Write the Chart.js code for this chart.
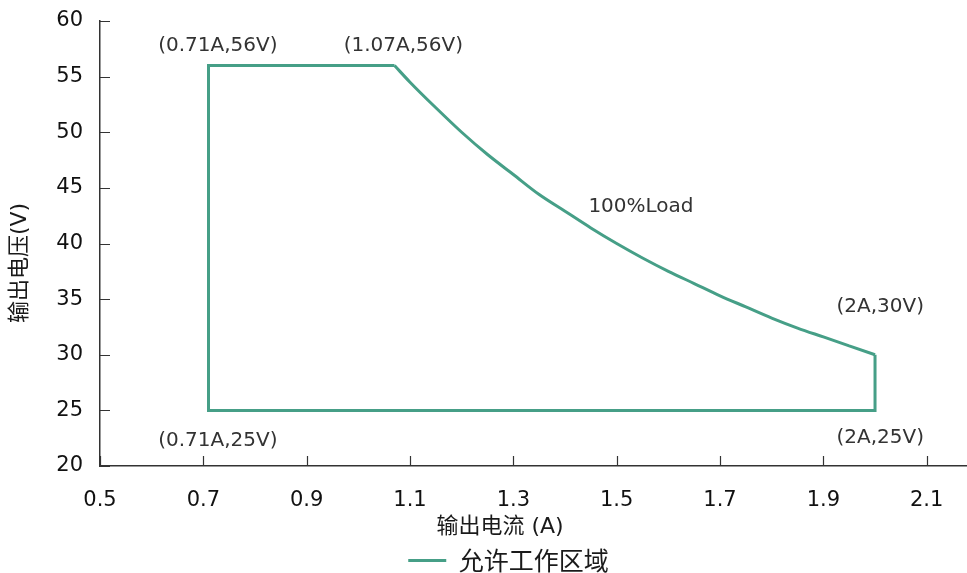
<!DOCTYPE html>
<html>
<head>
<meta charset="utf-8">
<script src="https://cdn.jsdelivr.net/npm/chart.js@4.4.1/dist/chart.umd.min.js"></script>
<style>
  html, body { margin: 0; padding: 0; background: #fff; }
  #wrap { width: 967px; height: 573px; }
</style>
</head>
<body>
<div id="wrap"><canvas id="c"></canvas></div>
<script>
// ---------- Data ----------
// straight edges of the allowed working area, traced in order
var edgeA = [2.00, 2.00, 0.71, 0.71, 1.07];
var edgeV = [30, 25, 25, 56, 56];

// constant-load curve from (1.07A,56V) down to (2A,30V)
var curveA = [1.07, 1.10, 1.15, 1.20, 1.25, 1.30, 1.35, 1.40, 1.45, 1.50,
              1.55, 1.60, 1.65, 1.70, 1.75, 1.80, 1.85, 1.90, 1.95, 2.00];
var curveV = [56.0, 54.5, 52.2, 50.0, 48.0, 46.2, 44.4, 42.9, 41.4, 40.0,
              38.7, 37.5, 36.4, 35.3, 34.3, 33.3, 32.4, 31.6, 30.8, 30.0];

var xTicks = [0.5, 0.7, 0.9, 1.1, 1.3, 1.5, 1.7, 1.9, 2.1];
var yTicks = [20, 25, 30, 35, 40, 45, 50, 55, 60];

var seriesName = '允许工作区域';
var xTitle = '输出电流 (A)';
var yTitle = '输出电压(V)';

// point labels, placed in data units
var noteText = ['(0.71A,56V)', '(1.07A,56V)', '100%Load', '(2A,30V)', '(0.71A,25V)', '(2A,25V)'];
var noteX    = [0.728, 1.087, 1.547, 2.010, 0.728, 2.010];
var noteY    = [57.8, 57.8, 43.3, 34.3, 22.3, 22.5];

// ---------- Style ----------
var teal = '#469f87';
var FONT = "'DejaVu Sans', 'Noto Sans CJK SC', sans-serif";
var CJK  = "'Noto Sans CJK SC', 'DejaVu Sans', sans-serif";

function toPoints(xs, ys) {
  return xs.map(function (x, i) { return { x: x, y: ys[i] }; });
}

function fixedTicks(list) {
  return function (scale) {
    scale.ticks = list.map(function (v) { return { value: v }; });
  };
}

// inward tick marks, axis titles and point notes
var extras = {
  id: 'extras',
  afterDraw: function (chart) {
    var ctx = chart.ctx;
    var xs = chart.scales.x, ys = chart.scales.y;
    var a = chart.chartArea;
    ctx.save();
    ctx.strokeStyle = '#333';
    ctx.lineWidth = 1.2;
    ctx.beginPath();
    xTicks.forEach(function (v) {
      var px = Math.round(xs.getPixelForValue(v)) + 0.5;
      ctx.moveTo(px, a.bottom);
      ctx.lineTo(px, a.bottom - 10);
    });
    yTicks.forEach(function (v) {
      var py = Math.round(ys.getPixelForValue(v)) + 0.5;
      ctx.moveTo(a.left, py);
      ctx.lineTo(a.left + 10, py);
    });
    ctx.stroke();

    ctx.fillStyle = '#333';
    ctx.font = '20px ' + FONT;
    ctx.textAlign = 'center';
    ctx.textBaseline = 'middle';
    noteText.forEach(function (t, i) {
      ctx.fillText(t, xs.getPixelForValue(noteX[i]), ys.getPixelForValue(noteY[i]));
    });

    ctx.fillStyle = '#1a1a1a';
    ctx.font = '22px ' + FONT;
    ctx.fillText(xTitle, 500, 527);
    ctx.translate(20, 263);
    ctx.rotate(-Math.PI / 2);
    ctx.fillText(yTitle, 0, 0);
    ctx.restore();
  }
};

var lineStyle = {
  showLine: true,
  borderColor: teal,
  backgroundColor: teal,
  borderWidth: 3,
  pointRadius: 0,
  pointHoverRadius: 0,
  borderJoinStyle: 'miter'
};

new Chart(document.getElementById('c'), {
  type: 'scatter',
  data: {
    datasets: [
      Object.assign({ label: seriesName, data: toPoints(edgeA, edgeV), tension: 0 }, lineStyle),
      Object.assign({ label: '_curve', data: toPoints(curveA, curveV), cubicInterpolationMode: 'monotone' }, lineStyle)
    ]
  },
  options: {
    responsive: true,
    maintainAspectRatio: false,
    animation: false,
    layout: { padding: { left: 50, right: 0, top: 21, bottom: -10 } },
    scales: {
      x: {
        type: 'linear',
        min: 0.5,
        max: 2.178,
        afterBuildTicks: fixedTicks(xTicks),
        afterFit: function (s) { s.height = 80; s.paddingLeft = 0; s.paddingRight = 0; },
        grid: { display: false, drawTicks: false },
        border: { display: true, color: '#333', width: 1.5 },
        ticks: {
          padding: 22,
          color: '#111',
          font: { family: FONT, size: 21 },
          callback: function (v) { return v.toFixed(1); }
        }
      },
      y: {
        min: 20,
        max: 60,
        afterBuildTicks: fixedTicks(yTicks),
        afterFit: function (s) { s.width = 50; s.paddingTop = 0; s.paddingBottom = 0; },
        grid: { display: false, drawTicks: false },
        border: { display: true, color: '#333', width: 1.5 },
        ticks: {
          padding: 17,
          color: '#111',
          font: { family: FONT, size: 21 }
        }
      }
    },
    plugins: {
      tooltip: { enabled: false },
      legend: {
        position: 'bottom',
        labels: {
          usePointStyle: true,
          pointStyle: 'line',
          pointStyleWidth: 38,
          padding: 2,
          color: '#1a1a1a',
          font: { family: CJK, size: 25 },
          filter: function (item) { return item.text !== '_curve'; }
        }
      }
    }
  },
  plugins: [extras]
});
</script>
</body>
</html>
